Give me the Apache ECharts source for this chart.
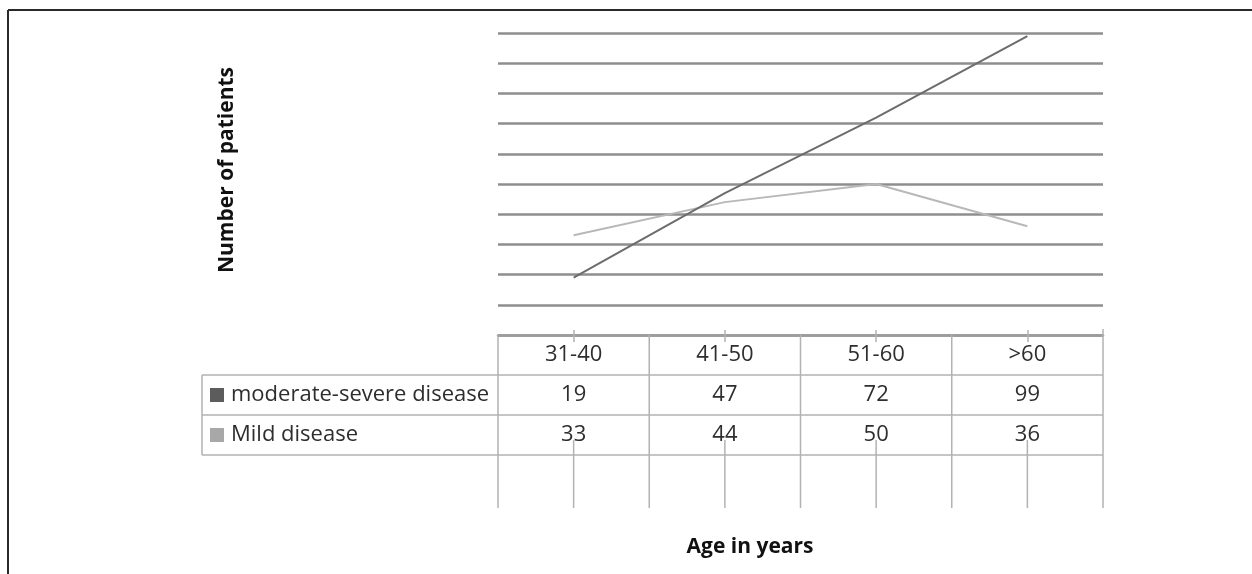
<!DOCTYPE html>
<html><head><meta charset="utf-8">
<script src="https://cdn.jsdelivr.net/npm/echarts@6/dist/echarts.min.js"></script>
<style>html,body{margin:0;padding:0;background:#fff}#c{width:1252px;height:574px}</style>
</head><body><div id="c"></div>
<script>
const categories = ['31-40', '41-50', '51-60', '>60'];
const moderateSevere = [19, 47, 72, 99];
const mildDisease = [33, 44, 50, 36];
const seriesNames = ['moderate-severe disease', 'Mild disease'];
const yAxisTitle = 'Number of patients';
const xAxisTitle = 'Age in years';

const lineColors = ['#6c6c6c', '#b8b8b8'];
const keyColors = ['#5c5c5c', '#a8a8a8'];
const FONT = '"Open Sans", "Noto Sans", sans-serif';
const tableLine = '#b2b2b2';

const chart = echarts.init(document.getElementById('c'), null, {renderer: 'canvas'});
chart.setOption({
  animation: false,
  grid: {left: 498, right: 149, top: 33, bottom: 239, containLabel: false},
  xAxis: [{
    type: 'category', data: categories, boundaryGap: true,
    axisLine: {lineStyle: {color: '#9c9c9c', width: 2.5}},
    axisTick: {show: true, alignWithLabel: true, length: 7, lineStyle: {color: tableLine, width: 1.5}},
    axisLabel: {fontFamily: FONT, fontSize: 22, color: '#2e2e2e', margin: 9},
    splitLine: {show: false}
  }, {
    type: 'category', data: categories, position: 'bottom', boundaryGap: true,
    axisLine: {show: false},
    axisTick: {show: true, inside: true, alignWithLabel: true, length: 5, lineStyle: {color: tableLine, width: 1.5}},
    axisLabel: {show: false}, splitLine: {show: false}
  }],
  yAxis: {
    type: 'value', min: 0, max: 100, interval: 10,
    axisLabel: {show: false}, axisLine: {show: false}, axisTick: {show: false},
    splitLine: {lineStyle: {color: '#8e8e8e', width: 2.5}}
  },
  series: [
    {name: seriesNames[0], type: 'line', data: moderateSevere, showSymbol: false, symbol: 'none',
     lineStyle: {color: lineColors[0], width: 2}, itemStyle: {color: lineColors[0]}, z: 3},
    {name: seriesNames[1], type: 'line', data: mildDisease, showSymbol: false, symbol: 'none',
     lineStyle: {color: lineColors[1], width: 2}, itemStyle: {color: lineColors[1]}, z: 2}
  ]
});

// Build the data table under the axis from the axis' own scale
const centers = categories.map((c, i) => chart.convertToPixel({xAxisIndex: 0}, i));
const step = centers[1] - centers[0];
const x0 = centers[0] - step / 2;
const x1 = centers[centers.length - 1] + step / 2;
const yAxis0 = chart.convertToPixel({yAxisIndex: 0}, 0);
const rowH = 40;
const rY = [yAxis0, yAxis0 + rowH, yAxis0 + 2 * rowH, yAxis0 + 3 * rowH];
const tableBottom = rY[3] + 53;
const tableLeft = 202;
const els = [];
function line(xa, ya, xb, yb, color, w) {
  els.push({type: 'line', shape: {x1: xa, y1: ya, x2: xb, y2: yb}, style: {stroke: color, lineWidth: w}, z: 10});
}
// horizontal lines
for (let k = 1; k <= 3; k++) line(tableLeft, rY[k], x1, rY[k], tableLine, 1.5);
// left border of series rows
line(tableLeft, rY[1], tableLeft, rY[3], tableLine, 1.5);
// category boundaries
for (let i = 0; i <= categories.length; i++) {
  const bx = x0 + i * step;
  line(bx, i === categories.length ? yAxis0 - 6 : yAxis0, bx, tableBottom, tableLine, 1.5);
}
// drop lines at category centers
centers.forEach(cx => line(cx, rY[2] + 25, cx, tableBottom, tableLine, 1.5));
// series rows
const rowsData = [moderateSevere, mildDisease];
rowsData.forEach((vals, r) => {
  const cy = (rY[r + 1] + rY[r + 2]) / 2;
  els.push({type: 'rect', shape: {x: 210, y: cy - 7, width: 14, height: 14}, style: {fill: keyColors[r]}, z: 11});
  els.push({type: 'text', x: 231, y: cy, style: {text: seriesNames[r], font: '22px ' + FONT, fill: '#2e2e2e', textAlign: 'left', textVerticalAlign: 'middle'}, z: 11});
  vals.forEach((v, i) => {
    els.push({type: 'text', x: centers[i], y: cy, style: {text: String(v), font: '22px ' + FONT, fill: '#2e2e2e', textAlign: 'center', textVerticalAlign: 'middle'}, z: 9});
  });
});
// titles
els.push({type: 'text', x: 227, y: 170, rotation: Math.PI / 2, style: {text: yAxisTitle, font: 'bold 21px ' + FONT, fill: '#111', textAlign: 'center', textVerticalAlign: 'middle'}, z: 11});
els.push({type: 'text', x: 750, y: 547, style: {text: xAxisTitle, font: 'bold 21px ' + FONT, fill: '#111', textAlign: 'center', textVerticalAlign: 'middle'}, z: 11});
// page frame
line(8, 10, 1252, 10, '#2a2a2a', 2);
line(8, 10, 8, 574, '#2a2a2a', 2);
chart.setOption({graphic: {elements: els}});
</script>
</body></html>
